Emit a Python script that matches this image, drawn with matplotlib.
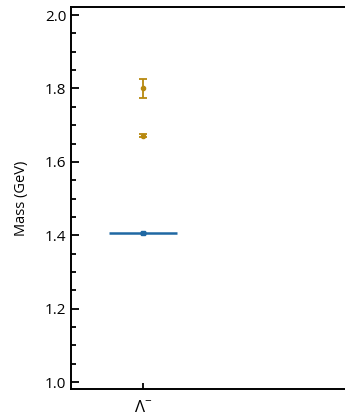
import matplotlib.pyplot as plt
import numpy as np

plt.rcParams['font.family'] = ['Open Sans', 'DejaVu Sans']
plt.rcParams['mathtext.fontset'] = 'custom'
plt.rcParams['mathtext.rm'] = 'Open Sans'
plt.rcParams['mathtext.it'] = 'Open Sans'

# data
categories = [r'$\mathrm{\Lambda}^{-}$']
ref_mass = [1.407]
ref_err = [0.003]
pred_mass = [1.800, 1.671]
pred_err = [0.026, 0.004]

blue = '#1f68a3'
gold = '#b8890f'

fig = plt.figure(figsize=(3.45, 4.15), dpi=100)
ax = fig.add_axes([71/345, 26/415, 320/345, 382/415])

x = np.arange(len(categories))
for xi, m, e in zip(x, ref_mass, ref_err):
    ax.hlines(m, xi - 0.235, xi + 0.235, color=blue, lw=1.8)
    ax.errorbar(xi, m, yerr=e, fmt='s', color=blue, ms=3.5, capsize=2, lw=1.2)

for m, e in zip(pred_mass, pred_err):
    ax.errorbar(x[0], m, yerr=e, fmt='o', color=gold, ms=3, capsize=3,
                lw=1.3, capthick=1.3)

ax.set_xlim(-0.5, 1.72)
ax.set_ylim(0.981, 2.022)
ax.set_xticks(x)
ax.set_xticklabels(categories, fontsize=12)
ax.set_yticks(np.arange(1.0, 2.01, 0.2))
ax.set_yticks(np.arange(1.0, 2.01, 0.05), minor=True)
ax.tick_params(axis='y', which='major', direction='in', length=6, width=1.3, labelsize=11)
ax.tick_params(axis='y', which='minor', direction='in', length=3.5, width=1.3)
ax.tick_params(axis='x', direction='in', length=4, width=1.3, pad=8)
ax.set_ylabel('Mass (GeV)', fontsize=10.5, labelpad=11)
for s in ax.spines.values():
    s.set_linewidth(1.4)

fig.savefig('out.png', dpi=100)
